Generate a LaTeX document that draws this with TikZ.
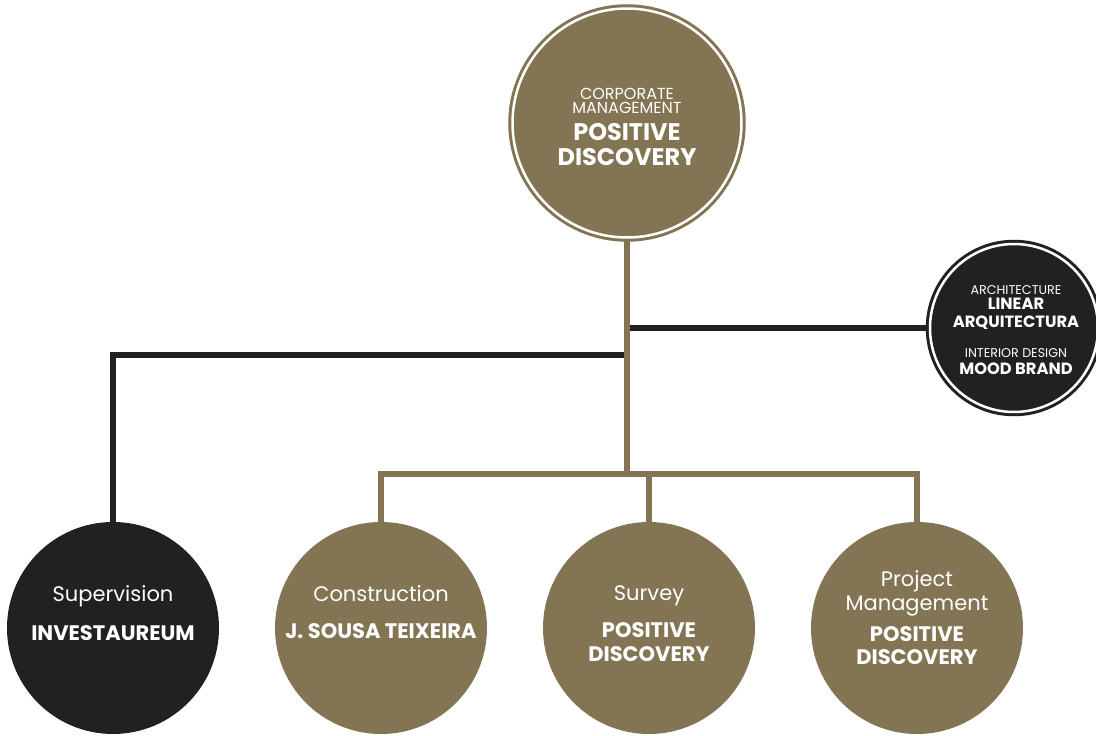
\documentclass[tikz,border=0pt]{standalone}
\usepackage{fontspec}
\setmainfont{Poppins}
\usetikzlibrary{backgrounds}
\definecolor{khaki}{HTML}{837553}
\definecolor{ink}{HTML}{212121}
\def\lw{6bp}
\def\role{\fontsize{21bp}{0bp}\selectfont\lineskiplimit=-100bp\relax}
\def\firm{\fontsize{21bp}{0bp}\selectfont\bfseries}

\tikzset{
  unit/.style={circle, inner sep=0pt, minimum size=212bp, fill=khaki},
  hub/.style={circle, inner sep=0pt, minimum size=229bp, fill=khaki,
    draw=khaki, line width=3bp, double=white, double distance=2.5bp},
  lbl/.style={text=white, align=center, inner sep=0pt, font=\role},
  link/.style={draw=khaki, line width=\lw},
}

\begin{document}
\begin{tikzpicture}[x=1bp, y=-1bp]
\useasboundingbox (0,0) rectangle (1096,736);

% circles
\node[hub] (top) at (627,123) {};
\node[hub, draw=ink, fill=ink, minimum size=168bp] (arch) at (1014,328) {};
\node[unit, fill=ink] (sup) at (113,628) {};
\node[unit] (con) at (381,628) {};
\node[unit] (sur) at (649,628) {};
\node[unit] (pm) at (917,628) {};

% texts
\node[lbl] (topt) at (627,127) {{\fontsize{16bp}{0bp}\selectfont CORPORATE}\\[14bp]
  {\fontsize{16bp}{0bp}\selectfont MANAGEMENT}\\[27bp]
  {\fontsize{24bp}{0bp}\selectfont\bfseries POSITIVE}\\[25bp]
  {\fontsize{24bp}{0bp}\selectfont\bfseries DISCOVERY}};
\node[lbl] (archt) at (1016,330) {{\fontsize{12.7bp}{0bp}\selectfont ARCHITECTURE}\\[15bp]
  {\fontsize{16.3bp}{0bp}\selectfont\bfseries LINEAR}\\[18bp]
  {\fontsize{16.3bp}{0bp}\selectfont\bfseries ARQUITECTURA}\\[30bp]
  {\fontsize{12.7bp}{0bp}\selectfont INTERIOR DESIGN}\\[17bp]
  {\fontsize{16.3bp}{0bp}\selectfont\bfseries MOOD BRAND}};
\node[lbl] (supt) at (113,613) {Supervision\\[39bp]{\firm INVESTAUREUM}};
\node[lbl] (cont) at (381,612) {Construction\\[37bp]{\firm J. SOUSA TEIXEIRA}};
\node[lbl] (surt) at (649,624) {Survey\\[37bp]{\firm POSITIVE}\\[24bp]{\firm DISCOVERY}};
\node[lbl] (pmt) at (917,618) {Project\\[24bp]Management\\[31bp]{\firm POSITIVE}\\[23bp]{\firm DISCOVERY}};

% connectors
\coordinate (bend) at (627,355);
\coordinate (fork) at (627,474);
\begin{scope}[on background layer]
\draw[link, draw=ink] (top.south |- arch) -- (arch.west);
\draw[link, draw=ink] (bend) -| (sup.north);
\draw[link] (top.south) -- (fork);
\draw[link] (con.north) |- (fork) -| (pm.north);
\draw[link] (sur.north) -- (sur.north |- fork);
\end{scope}
\end{tikzpicture}
\end{document}
